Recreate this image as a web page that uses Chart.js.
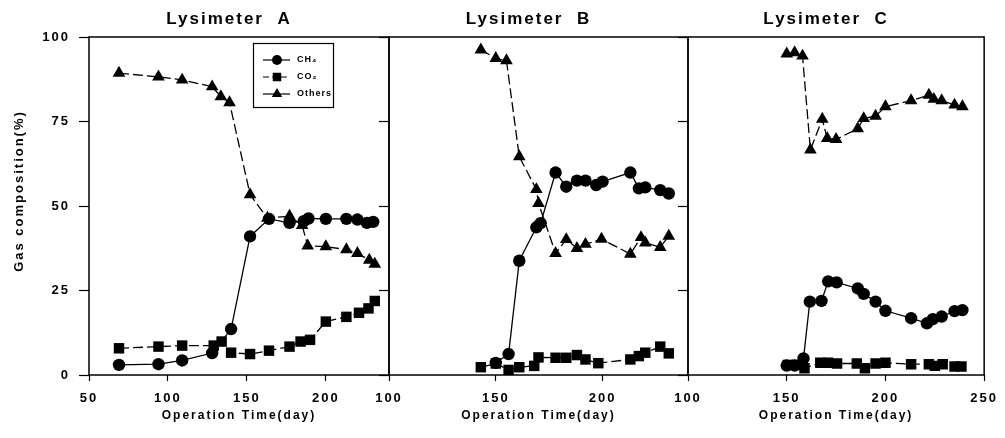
<!DOCTYPE html>
<html><head><meta charset="utf-8">
<script src="https://cdn.jsdelivr.net/npm/chart.js@4/dist/chart.umd.min.js"></script>
<style>
html,body{margin:0;padding:0;background:#fff;width:1005px;height:438px;overflow:hidden}
.p{position:absolute;top:0;height:438px}
.p canvas{display:block}
</style></head><body>
<div class="p" style="left:0;width:454px"><canvas id="ca"></canvas></div>
<div class="p" style="left:356px;width:344px"><canvas id="cb"></canvas></div>
<div class="p" style="left:649px;width:356px"><canvas id="cc"></canvas></div>
<script>
// ---- data ----
const panelTitles = ['Lysimeter  A', 'Lysimeter  B', 'Lysimeter  C'];
const seriesNames = ['CH₄', 'CO₂', 'Others'];
const yTitle = 'Gas composition(%)';
const xTitle = 'Operation Time(day)';
const yTicks = [0, 25, 50, 75, 100];
const xTicksA = [50, 100, 150, 200];
const xTicksB = [100, 150, 200];
const xTicksC = [100, 150, 200, 250];
const xRangeA = [50, 240];
const xRangeB = [100, 240];
const xRangeC = [100, 250];

// Lysimeter A
const aCH4Days = [69, 94, 109, 128, 140, 152, 164, 177, 186, 189, 200, 213, 220, 226, 230];
const aCH4     = [3.0, 3.2, 4.3, 6.5, 13.6, 41.0, 46.2, 45.0, 45.5, 46.3, 46.2, 46.2, 46.0, 45.0, 45.3];
const aCO2Days = [69, 94, 109, 129, 134, 140, 152, 164, 177, 184, 190, 200, 213, 221, 227, 231];
const aCO2     = [7.9, 8.4, 8.7, 8.7, 9.9, 6.6, 6.2, 7.2, 8.4, 9.9, 10.4, 15.8, 17.2, 18.4, 19.7, 21.9];
const aOthDays = [69, 94, 109, 128, 133.5, 139, 152, 163, 177, 185, 188.5, 200, 213, 220, 227.5, 231];
const aOth     = [89.3, 88.2, 87.3, 85.3, 82.4, 80.6, 53.4, 46.4, 47.0, 44.3, 38.2, 38.0, 37.1, 36.0, 34.0, 32.8];

// Lysimeter B
const bCH4Days = [150, 156, 161, 169, 171, 178, 183, 188, 192, 197, 200, 213, 217, 220, 227, 231];
const bCH4     = [3.6, 6.2, 33.8, 43.7, 44.9, 59.9, 55.7, 57.5, 57.5, 56.2, 57.2, 59.9, 55.2, 55.5, 54.7, 53.7];
const bCO2Days = [143, 150, 156, 161, 168, 170, 178, 183, 188, 192, 198, 213, 217, 220, 227, 231];
const bCO2     = [2.3, 3.4, 1.5, 2.3, 2.7, 5.2, 5.1, 5.1, 5.9, 4.6, 3.5, 4.6, 5.6, 6.6, 8.4, 6.4];
const bOthDays = [143, 150, 155, 161, 169, 170, 178, 183, 188, 192, 199.5, 213, 218, 220, 227, 231];
const bOth     = [96.2, 93.7, 93.0, 64.6, 54.9, 50.8, 36.0, 40.1, 37.5, 38.7, 40.2, 35.8, 40.7, 39.1, 37.8, 41.1];

// Lysimeter C
const cCH4Days = [150, 154, 158.5, 161.7, 167.6, 171, 175.3, 186, 189, 195, 200, 213, 221, 224, 228.5, 235, 239];
const cCH4     = [2.8, 2.8, 4.9, 21.7, 21.9, 27.7, 27.4, 25.6, 24.0, 21.7, 19.0, 16.8, 15.3, 16.5, 17.3, 18.9, 19.2];
const cCO2Days = [150.5, 154.5, 159, 167, 171, 175.5, 185.5, 189.6, 195, 200, 213, 222, 225, 229, 235, 238.5];
const cCO2     = [3.0, 3.0, 2.0, 3.6, 3.6, 3.4, 3.4, 2.0, 3.4, 3.6, 3.2, 3.2, 2.7, 3.2, 2.5, 2.5];
const cOthDays = [150, 154, 158, 162, 168, 170.5, 175, 186, 189, 195, 200, 213, 222, 224.5, 228.5, 235, 239];
const cOth     = [95.0, 95.4, 94.4, 66.6, 75.7, 70.0, 69.7, 72.9, 75.9, 76.6, 79.4, 81.2, 82.8, 81.6, 81.2, 79.9, 79.4];

// ---- styling ----
const FONT = 'Arial, "Liberation Sans", sans-serif';
const styles = [
  {pointStyle: 'circle',   pointRadius: 6.2, borderDash: []},
  {pointStyle: 'rect',     pointRadius: 7.4, borderDash: [10, 4]},
  {pointStyle: 'triangle', pointRadius: 7.3, borderDash: [10, 4]}
];

function pts(days, vals) { return days.map((d, i) => ({x: d, y: vals[i]})); }

function makeDatasets(series) {
  return series.map((s, i) => ({
    label: seriesNames[i],
    data: pts(s[0], s[1]),
    borderColor: '#000',
    backgroundColor: '#000',
    pointBackgroundColor: '#000',
    pointBorderColor: '#000',
    borderWidth: 1.3,
    pointBorderWidth: 0,
    pointStyle: styles[i].pointStyle,
    pointRadius: styles[i].pointRadius,
    borderDash: styles[i].borderDash,
    tension: 0,
    fill: false,
    showLine: true
  }));
}

// frame box + panel title
const frame = {
  id: 'frame',
  beforeDraw(chart) { chart.ctx.letterSpacing = '2px'; },
  afterDraw(chart, args, opts) {
    const {ctx, chartArea: a} = chart;
    ctx.save();
    ctx.setLineDash([]);
    ctx.strokeStyle = '#000';
    ctx.lineWidth = 1.5;
    ctx.strokeRect(a.left, a.top, a.right - a.left, a.bottom - a.top);
    ctx.fillStyle = '#000';
    ctx.letterSpacing = '2px';
    ctx.font = 'bold 17px ' + FONT;
    ctx.textAlign = 'center';
    ctx.textBaseline = 'middle';
    ctx.fillText(opts.text, (a.left + a.right) / 2 - 10, 19);
    ctx.restore();
  }
};

function marker(ctx, style, x, y, r) {
  ctx.beginPath();
  if (style === 'circle') {
    ctx.arc(x, y, r, 0, Math.PI * 2);
  } else if (style === 'rect') {
    const s = r * Math.SQRT1_2;
    ctx.rect(x - s, y - s, 2 * s, 2 * s);
  } else {
    const w = r * Math.sin(Math.PI * 2 / 3);
    ctx.moveTo(x, y - r);
    ctx.lineTo(x + w, y + r / 2);
    ctx.lineTo(x - w, y + r / 2);
    ctx.closePath();
  }
  ctx.fill();
}

const extrasA = {
  id: 'extrasA',
  afterDraw(chart) {
    const ctx = chart.ctx;
    ctx.save();
    // y axis title
    ctx.fillStyle = '#000';
    ctx.letterSpacing = '2px';
    ctx.font = 'bold 13px ' + FONT;
    ctx.textAlign = 'center';
    ctx.textBaseline = 'middle';
    ctx.translate(19, 191);
    ctx.rotate(-Math.PI / 2);
    ctx.fillText(yTitle, 0, 0);
    ctx.restore();

    // legend
    ctx.save();
    ctx.strokeStyle = '#000';
    ctx.fillStyle = '#000';
    ctx.lineWidth = 1.2;
    ctx.setLineDash([]);
    ctx.strokeRect(253.5, 43.5, 80, 64);
    const rows = [60, 77, 94];
    const legR = [5, 6, 6];
    ctx.font = 'bold 9px ' + FONT;
    ctx.letterSpacing = '1px';
    ctx.textAlign = 'left';
    ctx.textBaseline = 'middle';
    rows.forEach((y, i) => {
      ctx.setLineDash(i === 1 ? [6, 3] : []);
      ctx.beginPath();
      ctx.moveTo(263, y);
      ctx.lineTo(290, y);
      ctx.stroke();
      ctx.setLineDash([]);
      marker(ctx, styles[i].pointStyle, 277, y, legR[i]);
      ctx.fillText(seriesNames[i], 297, y);
    });
    ctx.restore();
  }
};

function makeChart(id, title, series, xRange, xTicks, yWidth, padRight, showYLabels, extraPlugins) {
  return new Chart(document.getElementById(id), {
    type: 'line',
    data: {datasets: makeDatasets(series)},
    options: {
      responsive: true,
      maintainAspectRatio: false,
      animation: false,
      events: [],
      layout: {padding: {left: 0, right: padRight, top: 37, bottom: 0}},
      plugins: {
        legend: {display: false},
        tooltip: {enabled: false},
        title: {display: false},
        frame: {text: title}
      },
      scales: {
        x: {
          type: 'linear',
          min: xRange[0],
          max: xRange[1],
          afterBuildTicks(scale) { scale.ticks = xTicks.map(v => ({value: v})); },
          afterFit(scale) { scale.height = 63; },
          grid: {display: true, drawOnChartArea: false, drawTicks: true, tickLength: 6, tickColor: '#000', tickWidth: 1.2},
          border: {display: false},
          ticks: {
            color: '#000',
            font: {family: FONT, size: 13, weight: 'bold'},
            padding: 10,
            maxRotation: 0,
            autoSkip: false,
            callback: v => String(v)
          },
          title: {
            display: true,
            text: xTitle,
            color: '#000',
            font: {family: FONT, size: 12, weight: 'bold', lineHeight: 1.2},
            padding: {top: 0, bottom: 15}
          }
        },
        y: {
          type: 'linear',
          min: yTicks[0],
          max: yTicks[yTicks.length - 1],
          afterBuildTicks(scale) { scale.ticks = yTicks.map(v => ({value: v})); },
          afterFit(scale) { scale.width = yWidth; },
          grid: {display: true, drawOnChartArea: false, drawTicks: true, tickLength: 10, tickColor: '#000', tickWidth: 1.2},
          border: {display: false},
          ticks: {
            color: '#000',
            font: {family: FONT, size: 13, weight: 'bold'},
            padding: 9,
            autoSkip: false,
            callback: v => showYLabels ? String(v) : ''
          }
        }
      }
    },
    plugins: [frame].concat(extraPlugins)
  });
}

makeChart('ca', panelTitles[0],
  [[aCH4Days, aCH4], [aCO2Days, aCO2], [aOthDays, aOth]],
  xRangeA, xTicksA, 89, 65, true, [extrasA]);
makeChart('cb', panelTitles[1],
  [[bCH4Days, bCH4], [bCO2Days, bCO2], [bOthDays, bOth]],
  xRangeB, xTicksB, 33, 12, false, []);
makeChart('cc', panelTitles[2],
  [[cCH4Days, cCH4], [cCO2Days, cCO2], [cOthDays, cOth]],
  xRangeC, xTicksC, 39, 15, false, []);
</script>
</body></html>
